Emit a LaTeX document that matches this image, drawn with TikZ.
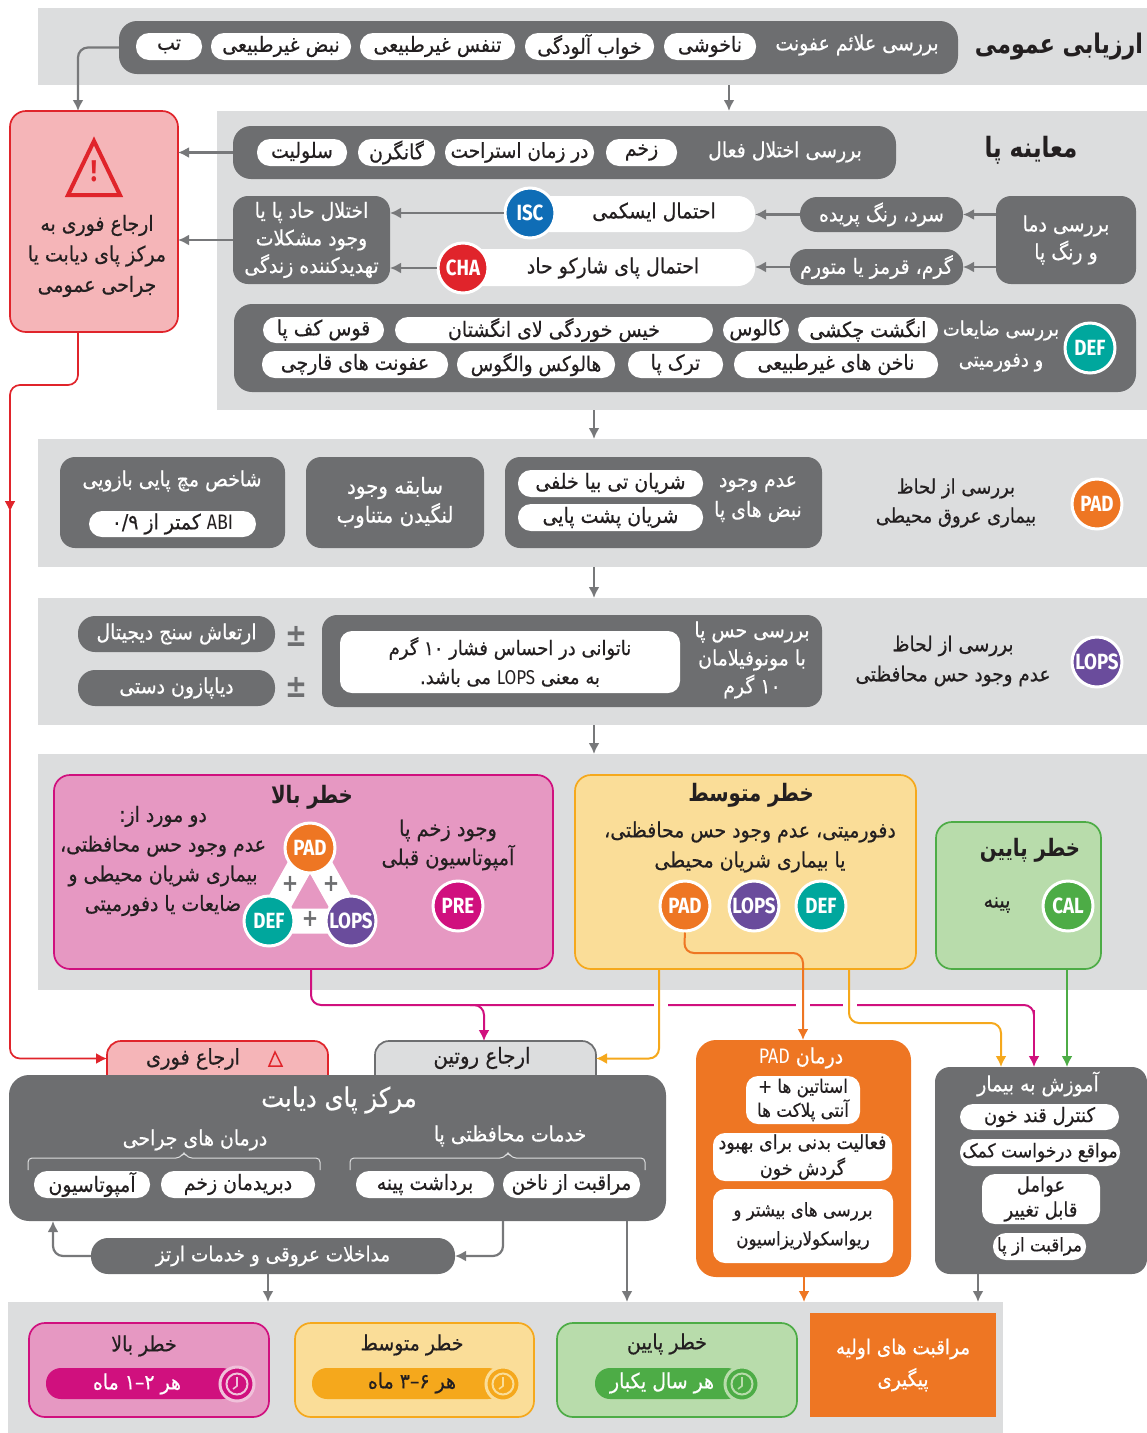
\documentclass[tikz,border=0pt]{standalone}
\usepackage{fontspec}
\usetikzlibrary{arrows.meta,calc}
\TeXXeTstate=1
\newfontfamily\arfont[Script=Arabic,FakeStretch=0.9,FakeBold=0.5]{DejaVu Sans}
\newfontfamily\arbold[Script=Arabic,FakeStretch=0.82]{DejaVu Sans Bold}
\newfontfamily\latfont[FakeStretch=0.85]{Fira Sans}
\newcommand\rtl[1]{\beginR #1\endR}
\newcommand\lr[1]{\beginL #1\endL}
\newcommand\lat[1]{\beginL{\latfont #1}\endL}
\newcommand\rng[2]{\beginL\mbox{#1}\mbox{–}\mbox{#2}\endL}
\newcommand\fn[2]{\arfont\fontsize{#1}{#2}\selectfont}
\newcommand\fb[2]{\arbold\fontsize{#1}{#2}\selectfont}
\definecolor{bandc}{HTML}{DCDDDE}
\definecolor{dark}{HTML}{6D6E70}
\definecolor{conc}{HTML}{77787A}
\definecolor{ink}{HTML}{231F20}
\definecolor{redc}{HTML}{E0242B}
\definecolor{redl}{HTML}{F5B5B8}
\definecolor{pinkc}{HTML}{D0107E}
\definecolor{pinkl}{HTML}{E698C2}
\definecolor{goldc}{HTML}{F5A81C}
\definecolor{goldl}{HTML}{FADD98}
\definecolor{grnc}{HTML}{4DAC46}
\definecolor{grnl}{HTML}{B8DCAB}
\definecolor{orac}{HTML}{EE7623}
\definecolor{purc}{HTML}{6A4C9C}
\definecolor{tealc}{HTML}{00A79D}
\definecolor{bluec}{HTML}{0F6DB6}
\tikzset{
 band/.style={fill=bandc},
 dk/.style={fill=dark,text=white,rounded corners=15pt,font=\fn{21}{28}},
 wp/.style={fill=white,text=ink,rounded corners=13pt,font=\fn{21}{26}},
 dp/.style={fill=dark,text=white,rounded corners=17pt,font=\fn{21}{26}},
 wb/.style={fill=white,text=ink,rounded corners=12pt,font=\fn{20}{30}},
 tw/.style={text=white,font=\fn{21}{28},align=center,inner sep=0pt},
 tk/.style={text=ink,font=\fn{21}{29},align=center,inner sep=0pt},
 ttl/.style={text=ink,font=\fb{24}{30},align=center,inner sep=0pt},
 disc/.style={circle,minimum size=50pt,inner sep=0pt,draw=white,line width=3pt,text=white,font=\latfont\bfseries\fontsize{22}{22}\selectfont},
 conn/.style={draw=conc,line width=2.2pt,rounded corners=10pt,-{Latex[length=11pt,width=11pt]}},
 connp/.style={conn,draw=pinkc},
 conng/.style={conn,draw=goldc},
 conno/.style={conn,draw=orac},
 connr/.style={conn,draw=redc},
 conngr/.style={conn,draw=grnc},
 risk/.style={line width=1.7pt,rounded corners=16pt,text=ink},
}
\newcommand\bx[7][]{%
 \pgfmathsetmacro\bxcx{(#3+#5)/2}\pgfmathsetmacro\bxcy{(#4+#6)/2}%
 \pgfmathsetmacro\bxw{#5-#3}\pgfmathsetmacro\bxh{#6-#4}%
 \node[minimum width=\bxw pt,minimum height=\bxh pt,inner sep=0pt,outer sep=0pt,align=center,#1] (#2) at (\bxcx,\bxcy) {#7};}
\newcommand\clock[5]{%
 \node[circle,minimum size=34pt,inner sep=0pt,draw=#5,line width=3pt,fill=#4] (#1) at (#2,#3) {};
 \node[circle,minimum size=21pt,inner sep=0pt,draw=#5,line width=2pt,fill=#4] (#1i) at (#2,#3) {};
 \draw[#5,line width=1.6pt] (#2,#3-7) -- (#2,#3+2) -- (#2-4,#3+5);}
\begin{document}
\begin{tikzpicture}[x=1pt,y=-1pt]
\useasboundingbox (0,0) rectangle (1147,1433);
% bands
\bx[band]{b1}{38}{8}{1147}{85}{}
\bx[band]{b2}{217}{111}{1147}{410}{}
\bx[band]{b3}{38}{439}{1147}{567}{}
\bx[band]{b4}{38}{598}{1147}{725}{}
\bx[band]{b5}{38}{754}{1147}{990}{}
\bx[band]{b6}{8}{1302}{1003}{1433}{}
% row 1
\node[ttl,font=\fb{27}{30}] (t1) at (1059,47) {\rtl{ارزیابی عمومی}};
\bx[dk,rounded corners=18pt]{r1}{119}{21}{958}{74}{}
\node[tw] (r1t) at (857,45) {\rtl{بررسی علائم عفونت}};
\bx[wp]{r1a}{664}{33}{756}{60}{\rtl{ناخوشی}}
\bx[wp]{r1b}{525}{33}{654}{60}{\rtl{خواب آلودگی}}
\bx[wp]{r1c}{360}{33}{515}{60}{\rtl{تنفس غیرطبیعی}}
\bx[wp]{r1d}{211}{33}{351}{60}{\rtl{نبض غیرطبیعی}}
\bx[wp]{r1e}{136}{33}{202}{60}{\rtl{تب}}
% red box
\bx[fill=redl,draw=redc,line width=1.7pt,rounded corners=16pt]{rb}{10}{111}{178}{332}{}
\draw[redc,line width=4pt,line join=miter] (94,141)--(68,195)--(120,195)--cycle;
\node[text=redc,font=\latfont\bfseries\fontsize{30}{30}\selectfont] (rbx) at (94,171) {!};
\node[tk,font=\fn{21}{30.5}] (rbt) at (97,256) {\rtl{ارجاع فوری به}\\\rtl{مرکز پای دیابت یا}\\\rtl{جراحی عمومی}};
% row 2
\node[ttl,font=\fb{28}{30}] (t2) at (1031,150) {\rtl{معاینه پا}};
\bx[dk,rounded corners=18pt]{r2}{233}{126}{896}{179}{}
\node[tw] (r2t) at (785,152) {\rtl{بررسی اختلال فعال}};
\bx[wp]{r2a}{606}{139}{677}{166}{\rtl{زخم}}
\bx[wp,font=\fn{20.5}{26}]{r2b}{445}{139}{594}{166}{\rtl{در زمان استراحت}}
\bx[wp]{r2c}{358}{139}{435}{166}{\rtl{گانگرن}}
\bx[wp]{r2d}{257}{139}{347}{166}{\rtl{سلولیت}}
% row 3
\bx[dk,font=\fn{21}{27.5}]{acu}{233}{196}{390}{284}{\rtl{اختلال حاد پا یا}\\\rtl{وجود مشکلات}\\\rtl{تهدیدکننده زندگی}}
\bx[dk]{tmp}{996}{196}{1136}{284}{\rtl{بررسی دما}\\\rtl{و رنگ پا}}
\bx[dp]{cold}{800}{197}{963}{232}{\rtl{سرد، رنگ پریده}}
\bx[dp]{warm}{790}{249}{963}{285}{\rtl{گرم، قرمز یا متورم}}
\bx[wp,rounded corners=17pt]{isc}{530}{196}{755}{232}{}
\node[tk] (isct) at (654,212) {\rtl{احتمال ایسکمی}};
\bx[wp,rounded corners=17pt]{cha}{463}{249}{755}{286}{}
\node[tk] (chat) at (613,268) {\rtl{احتمال پای شارکو حاد}};
\node[disc,fill=bluec] (iscd) at (530,213) {ISC};
\node[disc,fill=redc] (chad) at (463,268) {CHA};
% def row
\bx[dk,rounded corners=18pt]{dr}{234}{304}{1136}{392}{}
\node[disc,fill=tealc] (defd) at (1090,348) {DEF};
\node[tw,font=\fn{20}{31}] (drt) at (1001,346) {\rtl{بررسی ضایعات}\\\rtl{و دفورمیتی}};
\bx[wp]{d1}{798}{317}{938}{343}{\rtl{انگشت چکشی}}
\bx[wp]{d2}{723}{317}{789}{343}{\rtl{کالوس}}
\bx[wp]{d3}{395}{317}{713}{343}{\rtl{خیس خوردگی لای انگشتان}}
\bx[wp]{d4}{263}{317}{384}{343}{\rtl{قوس کف پا}}
\bx[wp]{d5}{734}{351}{938}{378}{\rtl{ناخن های غیرطبیعی}}
\bx[wp]{d6}{628}{351}{723}{378}{\rtl{ترک پا}}
\bx[wp,font=\fn{20.5}{26}]{d7}{457}{351}{615}{378}{\rtl{هالوکس والگوس}}
\bx[wp]{d8}{262}{351}{448}{378}{\rtl{عفونت های قارچی}}
% band 3
\node[disc,fill=orac] (padd) at (1097,504) {PAD};
\node[tk,font=\fn{20}{29}] (padt) at (956,503) {\rtl{بررسی از لحاظ}\\\rtl{بیماری عروق محیطی}};
\bx[dk]{p1}{505}{457}{822}{548}{}
\node[tw,font=\fn{21}{30}] (p1t) at (758,499) {\rtl{عدم وجود}\\\rtl{نبض های پا}};
\bx[wp]{p1a}{518}{470}{703}{497}{\rtl{شریان تی بیا خلفی}}
\bx[wp]{p1b}{518}{504}{703}{531}{\rtl{شریان پشت پایی}}
\bx[dk,font=\fn{22}{29}]{p2}{306}{457}{484}{548}{\rtl{سابقه وجود}\\\rtl{لنگیدن متناوب}}
\bx[dk]{p3}{60}{457}{285}{548}{}
\node[tw] (p3t) at (172,481) {\rtl{شاخص مچ پایی بازویی}};
\bx[wp]{p3a}{89}{511}{256}{537}{\rtl{\lat{ABI} کمتر از \lr{۰/۹}}}
% band 4
\node[disc,fill=purc] (lopd) at (1097,662) {LOPS};
\node[tk,font=\fn{20.5}{30}] (lopt) at (953,661) {\rtl{بررسی از لحاظ}\\\rtl{عدم وجود حس محافظتی}};
\bx[dk]{l1}{322}{615}{822}{707}{}
\bx[wb,font=\fn{20}{29}]{l1a}{340}{631}{680}{693}{\rtl{ناتوانی در احساس فشار \lr{۱۰} گرم}\\\rtl{به معنی \lat{LOPS} می باشد.}}
\node[tw] (l1t) at (752,660) {\rtl{بررسی حس پا}\\\rtl{با مونوفیلامان}\\\rtl{\lr{۱۰} گرم}};
\node[text=dark,font=\fb{32}{32}] (pm1) at (296,636) {±};
\node[text=dark,font=\fb{32}{32}] (pm2) at (296,687) {±};
\bx[dp]{l2}{78}{616}{275}{652}{\rtl{ارتعاش سنج دیجیتال}}
\bx[dp]{l3}{78}{670}{275}{706}{\rtl{دیاپازون دستی}}
% risk boxes
\bx[risk,fill=pinkl,draw=pinkc]{hi}{54}{775}{553}{969}{}
\node[ttl] (hit) at (312,797) {\rtl{خطر بالا}};
\node[tk,font=\fn{21.5}{29}] (hi1) at (448,845) {\rtl{وجود زخم پا}\\\rtl{آمپوتاسیون قبلی}};
\node[disc,fill=pinkc] (pre) at (458,906) {PRE};
\node[tk,font=\fn{21}{29.7}] (hi2) at (163,861) {\rtl{دو مورد از:}\\\rtl{عدم وجود حس محافظتی،}\\\rtl{بیماری شریان محیطی و}\\\rtl{ضایعات یا دفورمیتی}};
\coordinate (tpad) at (310,848);
\coordinate (tdef) at (269,921);
\coordinate (tlop) at (351,921);
\draw[white,line width=25pt,line join=round] (tpad)--(tdef)--(tlop)--cycle;
\node[disc,fill=orac] (hpad) at (tpad) {PAD};
\node[disc,fill=tealc] (hdef) at (tdef) {DEF};
\node[disc,fill=purc] (hlop) at (tlop) {LOPS};
\foreach \i/\p in {1/{290,884},2/{331,884},3/{310,919}} \node[text=dark,font=\fb{24}{24},inner sep=0pt] (plus\i) at (\p) {+};
\bx[risk,fill=goldl,draw=goldc]{mid}{575}{775}{916}{969}{}
\node[ttl] (midt) at (751,795) {\rtl{خطر متوسط}};
\node[tk,font=\fn{21}{30}] (mid1) at (750,847) {\rtl{دفورمیتی، عدم وجود حس محافظتی،}\\\rtl{یا بیماری شریان محیطی}};
\node[disc,fill=orac] (mpad) at (685,906) {PAD};
\node[disc,fill=purc] (mlop) at (754,906) {LOPS};
\node[disc,fill=tealc] (mdef) at (821,906) {DEF};
\bx[risk,fill=grnl,draw=grnc]{lo}{936}{822}{1101}{969}{}
\node[ttl] (lot) at (1030,850) {\rtl{خطر پایین}};
\node[tk] (lo1) at (997,905) {\rtl{پینه}};
\node[disc,fill=grnc] (cal) at (1068,906) {CAL};
% tabs
\draw[fill=redl,draw=redc,line width=1.7pt,rounded corners=14pt] (107,1095)--(107,1041)--(328,1041)--(328,1095);
\draw[fill=bandc,draw=dark,line width=1.7pt,rounded corners=14pt] (375,1095)--(375,1041)--(596,1041)--(596,1095);
\bx{tab1}{107}{1041}{328}{1076}{}
\bx{tab2}{375}{1041}{596}{1076}{}
\node[tk,font=\fn{21.5}{29}] (tab1t) at (193,1059) {\rtl{ارجاع فوری}};
\draw[redc,line width=1.5pt,line join=miter] (275,1052)--(269,1066)--(282,1066)--cycle;
\node[tk,font=\fn{22}{29}] (tab2t) at (482,1058) {\rtl{ارجاع روتین}};
% diabetic centre
\bx[dk,rounded corners=20pt]{dc}{9}{1075}{666}{1221}{}
\node[tw,font=\fn{27}{30}] (dct) at (339,1100) {\rtl{مرکز پای دیابت}};
\node[tw] (dcr) at (510,1136) {\rtl{خدمات محافظتی پا}};
\node[tw] (dcl) at (195,1140) {\rtl{درمان های جراحی}};
\draw[bandc,line width=1pt,rounded corners=4pt] (28,1170)--(28,1158)--(180,1158)--(184,1152)--(188,1158)--(320,1158)--(320,1170);
\draw[bandc,line width=1pt,rounded corners=4pt] (350,1170)--(350,1158)--(504,1158)--(508,1152)--(512,1158)--(645,1158)--(645,1170);
\bx[wp,font=\fn{20.5}{26}]{da}{503}{1171}{640}{1198}{\rtl{مراقبت از ناخن}}
\bx[wp]{db}{356}{1171}{494}{1198}{\rtl{برداشت پینه}}
\bx[wp]{dd}{161}{1171}{315}{1198}{\rtl{دبریدمان زخم}}
\bx[wp]{de}{34}{1171}{150}{1198}{\rtl{آمپوتاسیون}}
\bx[dp,font=\fn{20.5}{26}]{vas}{91}{1238}{455}{1274}{\rtl{مداخلات عروقی و خدمات ارتز}}
% PAD treatment
\bx[fill=orac,rounded corners=20pt]{tr}{696}{1040}{911}{1277}{}
\node[tw] (trt) at (801,1058) {\rtl{درمان \lat{PAD}}};
\bx[wb,font=\fn{18.6}{24}]{tr1}{746}{1076}{860}{1124}{\rtl{استاتین ها +}\\\rtl{آنتی پلاکت ها}}
\bx[wb,font=\fn{19.4}{26}]{tr2}{713}{1133}{892}{1181}{\rtl{فعالیت بدنی برای بهبود}\\\rtl{گردش خون}}
\bx[wb,font=\fn{18.5}{29}]{tr3}{713}{1189}{893}{1263}{\rtl{بررسی های بیشتر و}\\\rtl{ریواسکولاریزاسیون}}
% education
\bx[fill=dark,rounded corners=15pt]{ed}{935}{1067}{1147}{1274}{}
\node[tw] (edt) at (1038,1084) {\rtl{آموزش به بیمار}};
\bx[wp,font=\fn{20}{26}]{e1}{960}{1104}{1119}{1130}{\rtl{کنترل قند خون}}
\bx[wp,font=\fn{19}{26}]{e2}{960}{1139}{1120}{1166}{\rtl{مواقع درخواست کمک}}
\bx[wp,font=\fn{20}{25}]{e3}{982}{1174}{1100}{1224}{\rtl{عوامل}\\\rtl{قابل تغییر}}
\bx[wp,font=\fn{18.5}{25}]{e4}{993}{1233}{1086}{1260}{\rtl{مراقبت از پا}}
% follow-up
\bx[risk,fill=pinkl,draw=pinkc]{f1}{29}{1323}{269}{1417}{}
\bx[risk,fill=goldl,draw=goldc]{f2}{295}{1323}{534}{1417}{}
\bx[risk,fill=grnl,draw=grnc]{f3}{557}{1323}{797}{1417}{}
\node[tk] (f1t) at (144,1346) {\rtl{خطر بالا}};
\node[tk] (f2t) at (412,1345) {\rtl{خطر متوسط}};
\node[tk] (f3t) at (667,1344) {\rtl{خطر پایین}};
\bx[fill=pinkc,rounded corners=15pt]{f1b}{46}{1368}{237}{1399}{}
\bx[fill=goldc,rounded corners=15pt]{f2b}{312}{1368}{503}{1399}{}
\bx[fill=grnc,rounded corners=15pt]{f3b}{595}{1368}{742}{1399}{}
\node[tw] (f1x) at (137,1384) {\rtl{هر \rng{۱}{۲} ماه}};
\node[tk] (f2x) at (412,1383) {\rtl{هر \rng{۳}{۶} ماه}};
\node[tw] (f3x) at (662,1383) {\rtl{هر سال یکبار}};
\clock{c1}{237}{1384}{pinkc}{pinkl!60!white}
\clock{c2}{503}{1384}{goldc}{goldl}
\clock{c3}{742}{1384}{grnc}{grnl}
\bx[fill=orac,text=white,font=\fn{20.5}{32}]{pc}{810}{1313}{996}{1417}{\rtl{مراقبت های اولیه}\\\rtl{پیگیری}}
% connectors
\draw[conn] (r1.west) -- (78,0 |- r1.west) -- (78,0 |- rb.north);
\draw[conn] (729,0 |- b1.south) -- (729,0 |- b2.north);
\draw[conn] (r2.west) -- (r2.west -| rb.east);
\draw[conn] (acu.west) -- (acu.west -| rb.east);
\draw[conn] (iscd.west) -- (iscd.west -| acu.east);
\draw[conn] (chad.west) -- (chad.west -| acu.east);
\draw[conn] (tmp.west |- cold.east) -- (cold.east);
\draw[conn] (tmp.west |- warm.east) -- (warm.east);
\draw[conn] (cold.west) -- (cold.west -| isc.east);
\draw[conn] (warm.west) -- (warm.west -| cha.east);
\draw[conn] (594,0 |- b2.south) -- (594,0 |- b3.north);
\draw[conn] (594,0 |- b3.south) -- (594,0 |- b4.north);
\draw[conn] (594,0 |- b4.south) -- (594,0 |- b5.north);
% red
\coordinate (redmid) at (10,500);
\draw[redc,line width=1.7pt,rounded corners=10pt] (78,0 |- rb.south) -- (78,385) -- (10,385) -- (redmid);
\draw[connr,line width=1.7pt] (redmid) -- (10,512);
\draw[connr,line width=1.7pt] (10,510) -- (10,0 |- tab1.west) -- (tab1.west);
% magenta
\draw[pinkc,line width=2pt,rounded corners=10pt] (311,0 |- hi.south) -- (311,1005) -- (1034,1005) -- (1034,1015);
\draw[connp,line width=2pt] (470,1005) -- (484,1005) -- (484,0 |- tab2.north);
\draw[connp,line width=2pt] (1034,1010) -- (1034,0 |- ed.north);
\foreach \gx in {660.5,803,850} \draw[white,line width=14pt] (\gx,1001) -- (\gx,1009);
% gold, orange, green
\draw[conng,line width=2pt] (659,0 |- mid.south) -- (659,0 |- tab2.east) -- (tab2.east);
\draw[conng,line width=2pt] (849,0 |- mid.south) -- (849,1023) -- (1001,1023) -- (1001,0 |- ed.north);
\draw[conno,line width=2pt] (mpad.south) -- (684,953) -- (803,953) -- (803,0 |- tr.north);
\draw[conngr,line width=2pt] (1067,0 |- lo.south) -- (1067,0 |- ed.north);
% lower
\draw[conn] (503,0 |- dc.south) -- (503,0 |- vas.east) -- (vas.east);
\draw[conn] (vas.west) -- (53,0 |- vas.west) -- (53,0 |- dc.south);
\draw[conn] (268,0 |- vas.south) -- (268,0 |- b6.north);
\draw[conn] (627,0 |- dc.south) -- (627,0 |- b6.north);
\draw[conno,line width=2pt] (804,0 |- tr.south) -- (804,0 |- b6.north);
\draw[conn] (978,0 |- ed.south) -- (978,0 |- b6.north);
\end{tikzpicture}
\end{document}
